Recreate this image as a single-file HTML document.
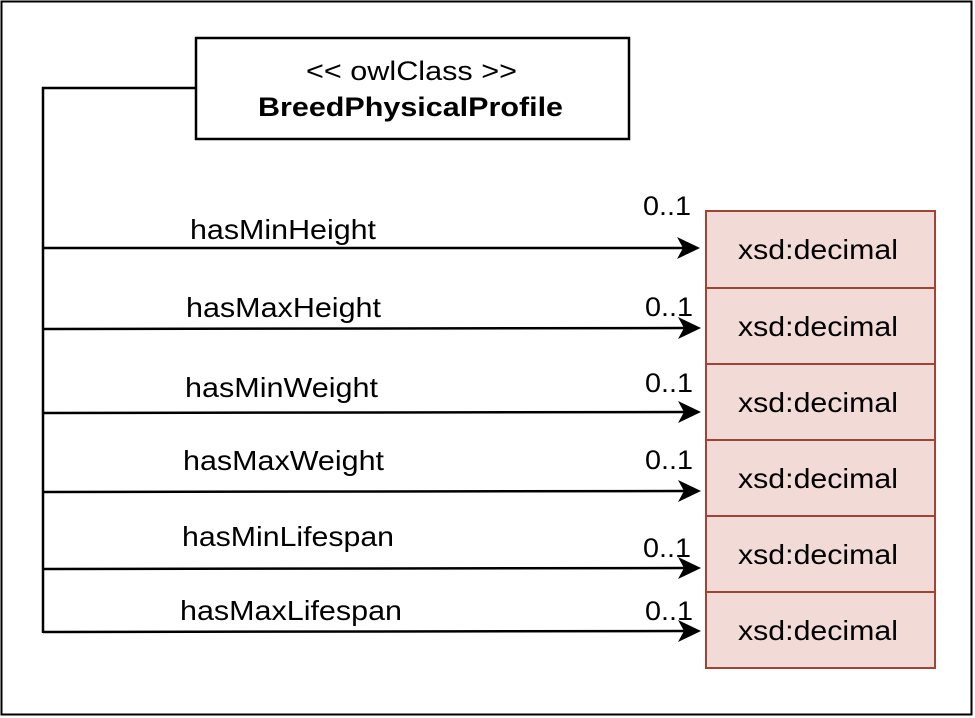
<!DOCTYPE html>
<html><head><style>body{margin:0;background:#fff}svg{display:block}text{font-family:"Liberation Sans",Arial,sans-serif;fill:#000}</style></head>
<body>
<svg width="975" height="718" viewBox="0 0 975 718">
<rect x="1.5" y="1.5" width="970" height="713" fill="#fff" stroke="#000" stroke-width="2"/>
<rect x="196" y="38" width="433" height="101" fill="#fff" stroke="#000" stroke-width="2.5"/>
<text x="306" y="80" font-size="27" textLength="211" lengthAdjust="spacingAndGlyphs">&lt;&lt; owlClass &gt;&gt;</text>
<text x="258" y="116" font-size="27" font-weight="bold" textLength="305" lengthAdjust="spacingAndGlyphs">BreedPhysicalProfile</text>
<path d="M196 88 H43 V633" fill="none" stroke="#000" stroke-width="2.5"/>
<g fill="#f2dad6" stroke="#a04535" stroke-width="2">
<rect x="706" y="211" width="229" height="77"/>
<rect x="706" y="288" width="229" height="76"/>
<rect x="706" y="364" width="229" height="76"/>
<rect x="706" y="440" width="229" height="76"/>
<rect x="706" y="516" width="229" height="76"/>
<rect x="706" y="592" width="229" height="76"/>
</g>
<g font-size="28">
<text x="738" y="259" textLength="160" lengthAdjust="spacingAndGlyphs">xsd:decimal</text>
<text x="738" y="336" textLength="160" lengthAdjust="spacingAndGlyphs">xsd:decimal</text>
<text x="738" y="412" textLength="160" lengthAdjust="spacingAndGlyphs">xsd:decimal</text>
<text x="738" y="488" textLength="160" lengthAdjust="spacingAndGlyphs">xsd:decimal</text>
<text x="738" y="564" textLength="160" lengthAdjust="spacingAndGlyphs">xsd:decimal</text>
<text x="738" y="640" textLength="160" lengthAdjust="spacingAndGlyphs">xsd:decimal</text>
</g>
<g stroke="#000" stroke-width="2.5">
<line x1="43" y1="248" x2="685" y2="248"/>
<line x1="43" y1="329" x2="685" y2="328"/>
<line x1="43" y1="413" x2="685" y2="412"/>
<line x1="43" y1="492" x2="685" y2="491"/>
<line x1="43" y1="569" x2="685" y2="568"/>
<line x1="43" y1="632" x2="685" y2="631"/>
</g>
<g fill="#000">
<path d="M700 248 L677 237 L683 248 L677 259Z"/>
<path d="M701 328 L678 317 L684 328 L678 339Z"/>
<path d="M701 412 L678 401 L684 412 L678 423Z"/>
<path d="M701 491 L678 480 L684 491 L678 502Z"/>
<path d="M701 568 L678 557 L684 568 L678 579Z"/>
<path d="M701 631 L678 620 L684 631 L678 642Z"/>
</g>
<g font-size="28">
<text x="190" y="239" textLength="186" lengthAdjust="spacingAndGlyphs">hasMinHeight</text>
<text x="186" y="317" textLength="195" lengthAdjust="spacingAndGlyphs">hasMaxHeight</text>
<text x="185" y="397" textLength="193" lengthAdjust="spacingAndGlyphs">hasMinWeight</text>
<text x="183" y="470" textLength="201" lengthAdjust="spacingAndGlyphs">hasMaxWeight</text>
<text x="182" y="546" textLength="212" lengthAdjust="spacingAndGlyphs">hasMinLifespan</text>
<text x="180" y="620" textLength="222" lengthAdjust="spacingAndGlyphs">hasMaxLifespan</text>
</g>
<g font-size="27">
<text x="643" y="215" textLength="48" lengthAdjust="spacingAndGlyphs">0..1</text>
<text x="645" y="316" textLength="48" lengthAdjust="spacingAndGlyphs">0..1</text>
<text x="645" y="392" textLength="48" lengthAdjust="spacingAndGlyphs">0..1</text>
<text x="645" y="469" textLength="48" lengthAdjust="spacingAndGlyphs">0..1</text>
<text x="643" y="557" textLength="48" lengthAdjust="spacingAndGlyphs">0..1</text>
<text x="645" y="620" textLength="48" lengthAdjust="spacingAndGlyphs">0..1</text>
</g>
</svg>
</body></html>
